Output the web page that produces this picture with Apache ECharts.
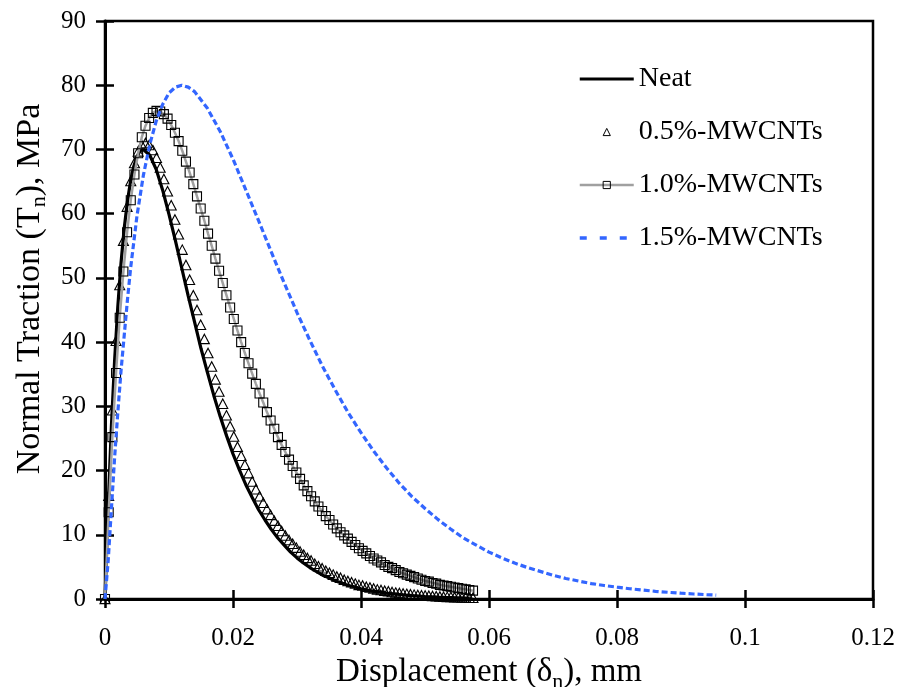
<!DOCTYPE html>
<html><head><meta charset="utf-8">
<script src="https://cdn.jsdelivr.net/npm/echarts@6/dist/echarts.min.js"></script>
<style>html,body{margin:0;padding:0;background:#fff}#c{width:898px;height:687px}</style>
</head><body><div id="c"></div>
<script>
// ---- data ----
const seriesNames = ['Neat', '0.5%-MWCNTs', '1.0%-MWCNTs', '1.5%-MWCNTs'];
const xTickLabels = ['0', '0.02', '0.04', '0.06', '0.08', '0.1', '0.12'];
const yTickLabels = ['0', '10', '20', '30', '40', '50', '60', '70', '80', '90'];

const neatDisplacement = [0, 0.0005, 0.001, 0.0015, 0.002, 0.0025, 0.003, 0.0035, 0.004, 0.0045, 0.005, 0.0055, 0.006,
  0.007, 0.008, 0.009, 0.010, 0.011, 0.012, 0.013, 0.014, 0.015, 0.016, 0.017, 0.018, 0.019, 0.020,
  0.021, 0.022, 0.023, 0.024, 0.025, 0.026, 0.027, 0.028, 0.029, 0.030, 0.031, 0.032, 0.033, 0.034,
  0.035, 0.036, 0.037, 0.038, 0.039, 0.040, 0.041, 0.042, 0.043, 0.044, 0.045, 0.046, 0.047, 0.048,
  0.049, 0.050, 0.051, 0.052, 0.053, 0.054, 0.055, 0.056, 0.057];
const neatTraction = [0, 14.6, 26.9, 37.1, 45.5, 52.3, 57.7, 61.9, 65.1, 67.4, 68.9, 69.8, 70.0,
  69.1, 66.9, 63.7, 59.9, 55.8, 51.5, 47.2, 43.1, 39.0, 35.3, 31.7, 28.4, 25.4, 22.6,
  20.1, 17.8, 15.8, 13.9, 12.3, 10.8, 9.5, 8.4, 7.3, 6.4, 5.6, 4.9, 4.3, 3.7,
  3.3, 2.8, 2.5, 2.1, 1.9, 1.6, 1.4, 1.2, 1.1, 0.9, 0.8, 0.7, 0.6, 0.52,
  0.45, 0.39, 0.34, 0.29, 0.25, 0.22, 0.19, 0.16, 0.14];

const markerDisplacement = [0, 0.000575, 0.00115, 0.001725, 0.0023, 0.002875, 0.00345, 0.004025, 0.0046, 0.005175,
  0.00575, 0.006325, 0.0069, 0.007475, 0.00805, 0.008625, 0.0092, 0.009775, 0.01035, 0.010925,
  0.0115, 0.012075, 0.01265, 0.013225, 0.0138, 0.014375, 0.01495, 0.015525, 0.0161, 0.016675,
  0.01725, 0.017825, 0.0184, 0.018975, 0.01955, 0.020125, 0.0207, 0.021275, 0.02185, 0.022425,
  0.023, 0.023575, 0.02415, 0.024725, 0.0253, 0.025875, 0.02645, 0.027025, 0.0276, 0.028175,
  0.02875, 0.029325, 0.0299, 0.030475, 0.03105, 0.031625, 0.0322, 0.032775, 0.03335, 0.033925,
  0.0345, 0.035075, 0.03565, 0.036225, 0.0368, 0.037375, 0.03795, 0.038525, 0.0391, 0.039675,
  0.04025, 0.040825, 0.0414, 0.041975, 0.04255, 0.043125, 0.0437, 0.044275, 0.04485, 0.045425,
  0.046, 0.046575, 0.04715, 0.047725, 0.0483, 0.048875, 0.04945, 0.050025, 0.0506, 0.051175,
  0.05175, 0.052325, 0.0529, 0.053475, 0.05405, 0.054625, 0.0552, 0.055775, 0.05635, 0.056925, 0.0575];
const traction05 = [0, 16.1, 29.4, 40.2, 48.9, 55.8, 61.1, 65.1, 67.9, 69.7,
  70.7, 71.0, 70.7, 69.9, 68.7, 67.2, 65.4, 63.5, 61.3, 59.1,
  56.8, 54.4, 52.0, 49.7, 47.3, 45.0, 42.7, 40.5, 38.3, 36.2,
  34.2, 32.3, 30.4, 28.6, 26.9, 25.3, 23.7, 22.3, 20.9, 19.6,
  18.3, 17.1, 16.0, 15.0, 14.0, 13.1, 12.2, 11.4, 10.6, 9.9,
  9.2, 8.6, 8.0, 7.4, 6.9, 6.4, 6.0, 5.5, 5.1, 4.8,
  4.4, 4.1, 3.8, 3.5, 3.3, 3.0, 2.8, 2.6, 2.4, 2.2,
  2.1, 1.9, 1.8, 1.65, 1.5, 1.4, 1.3, 1.2, 1.1, 1.0,
  0.94, 0.87, 0.80, 0.74, 0.68, 0.63, 0.58, 0.54, 0.50, 0.46,
  0.42, 0.39, 0.36, 0.33, 0.31, 0.28, 0.26, 0.24, 0.22, 0.20, 0.19];
const traction10 = [0, 13.5, 25.2, 35.2, 43.8, 51.0, 57.1, 62.1, 66.1, 69.4,
  71.9, 73.7, 74.9, 75.7, 76.0, 75.9, 75.5, 74.8, 73.8, 72.6,
  71.3, 69.8, 68.1, 66.4, 64.6, 62.7, 60.8, 58.9, 56.9, 55.0,
  53.0, 51.1, 49.2, 47.3, 45.4, 43.6, 41.8, 40.0, 38.3, 36.7,
  35.1, 33.5, 32.0, 30.6, 29.1, 27.8, 26.5, 25.2, 24.0, 22.9,
  21.7, 20.7, 19.7, 18.7, 17.7, 16.8, 16.0, 15.2, 14.4, 13.7,
  12.9, 12.3, 11.6, 11.0, 10.4, 9.9, 9.4, 8.9, 8.4, 7.9,
  7.5, 7.1, 6.7, 6.3, 6.0, 5.7, 5.3, 5.0, 4.8, 4.5,
  4.2, 4.0, 3.8, 3.6, 3.4, 3.2, 3.0, 2.8, 2.7, 2.5,
  2.4, 2.2, 2.1, 2.0, 1.9, 1.8, 1.7, 1.6, 1.5, 1.4, 1.3];

const mw15Displacement = [0, 0.0005, 0.001, 0.0015, 0.002, 0.0025, 0.003, 0.0035, 0.004,
  0.005, 0.006, 0.007, 0.008, 0.009, 0.010, 0.011, 0.012, 0.013, 0.014,
  0.016, 0.018, 0.020, 0.022, 0.024, 0.026, 0.028, 0.030, 0.032, 0.034,
  0.036, 0.038, 0.040, 0.042, 0.044, 0.046, 0.048, 0.050, 0.052, 0.054,
  0.056, 0.058, 0.060, 0.062, 0.064, 0.066, 0.068, 0.070, 0.072, 0.074,
  0.076, 0.078, 0.080, 0.082, 0.084, 0.086, 0.088, 0.090, 0.092, 0.094, 0.0955];
const mw15Traction = [0, 6, 14, 22, 29, 35.5, 41, 46.5, 51.5,
  59.7, 66.0, 70.8, 74.4, 77.0, 78.8, 79.7, 80.0, 79.7, 79.0,
  76.4, 72.8, 68.5, 63.7, 58.9, 54.0, 49.2, 44.6, 40.3, 36.2,
  32.5, 29.0, 25.9, 23.0, 20.4, 18.0, 15.9, 14.1, 12.4, 10.9,
  9.5, 8.4, 7.3, 6.4, 5.6, 4.9, 4.3, 3.7, 3.2, 2.8,
  2.4, 2.1, 1.85, 1.6, 1.4, 1.2, 1.04, 0.9, 0.78, 0.68, 0.61];

// ---- chart ----
const FONT = '"Liberation Serif","Times New Roman",serif';
const zip = (xs, ys) => xs.map((x, i) => [x, ys[i]]);
const XSTEP = 0.02, YSTEP = 10;

const tickStyle = { color: '#000', width: 2.5 };
function titleRich(size) {
  const sub = Math.round(size * 0.66);
  return {
    a: { fontFamily: FONT, fontSize: size, color: '#000', lineHeight: size, verticalAlign: 'top' },
    s: { fontFamily: FONT, fontSize: sub, color: '#000', lineHeight: sub,
         padding: [Math.round(size * 0.45), 0, 0, 0], verticalAlign: 'top' }
  };
}

const chart = echarts.init(document.getElementById('c'), null, { renderer: 'canvas' });
chart.setOption({
  animation: false,
  backgroundColor: '#fff',
  grid: { left: 105, right: 25, top: 21, bottom: 88, show: true, borderColor: '#000', borderWidth: 2.5,
          backgroundColor: 'rgba(0,0,0,0)', containLabel: false, outerBoundsMode: 'none' },
  legend: {
    orient: 'vertical', left: 578, top: 64, padding: 0, selectedMode: false,
    itemWidth: 54, itemHeight: 9, itemGap: 23,
    textStyle: { fontFamily: FONT, fontSize: 28, color: '#000', lineHeight: 30 },
    data: [
      { name: seriesNames[0], itemStyle: { opacity: 0 }, lineStyle: { width: 3, color: '#000' } },
      { name: seriesNames[1], itemStyle: { borderWidth: 1, borderColor: '#000', color: 'rgba(0,0,0,0)' }, lineStyle: { width: 0 } },
      { name: seriesNames[2], itemStyle: { borderWidth: 1, borderColor: '#000', color: 'rgba(0,0,0,0)' }, lineStyle: { width: 2.5, color: '#a0a0a0' } },
      { name: seriesNames[3], itemStyle: { opacity: 0 }, lineStyle: { width: 3.5, color: '#3366ff', type: [7, 13] } }
    ]
  },
  xAxis: [
    {
      type: 'value', min: 0, max: 0.12, interval: XSTEP, position: 'bottom',
      axisLine: { lineStyle: { color: '#000', width: 3 } },
      axisTick: { inside: false, length: 9, lineStyle: tickStyle },
      splitLine: { show: false },
      axisLabel: { margin: 27, fontFamily: FONT, fontSize: 25, lineHeight: 25, color: '#000',
                   formatter: v => xTickLabels[Math.round(v / XSTEP)] },
      name: '{a|Displacement (δ}{s|n}{a|), mm}',
      nameLocation: 'middle', nameGap: 44,
      nameTextStyle: { rich: titleRich(33) }
    },
    {
      type: 'value', min: 0, max: 0.12, interval: XSTEP, position: 'bottom',
      axisLine: { show: false }, axisLabel: { show: false }, splitLine: { show: false },
      axisTick: { inside: true, length: 9, lineStyle: tickStyle }
    }
  ],
  yAxis: [
    {
      type: 'value', min: 0, max: 90, interval: YSTEP, position: 'left',
      axisLine: { lineStyle: { color: '#000', width: 3 } },
      axisTick: { inside: false, length: 9, lineStyle: tickStyle },
      splitLine: { show: false },
      axisLabel: { margin: 19, fontFamily: FONT, fontSize: 25, color: '#000',
                   formatter: v => yTickLabels[Math.round(v / YSTEP)] },
      name: '{a|Normal Traction (T}{s|n}{a|), MPa}',
      nameLocation: 'middle', nameGap: 57,
      nameTextStyle: { rich: titleRich(34), padding: [0, 0, 0, 42] }
    },
    {
      type: 'value', min: 0, max: 90, interval: YSTEP, position: 'left',
      axisLine: { show: false }, axisLabel: { show: false }, splitLine: { show: false },
      axisTick: { inside: true, length: 9, lineStyle: tickStyle }
    }
  ],
  series: [
    {
      name: seriesNames[0], type: 'line', data: zip(neatDisplacement, neatTraction),
      symbol: 'none', lineStyle: { color: '#000', width: 3.2 }, itemStyle: { color: '#000' }, z: 2
    },
    {
      name: seriesNames[1], type: 'line', data: zip(markerDisplacement, traction05),
      symbol: 'triangle', symbolSize: [10, 9.5], lineStyle: { width: 0 },
      itemStyle: { color: 'rgba(0,0,0,0)', borderColor: '#000', borderWidth: 1.1 }, z: 3
    },
    {
      name: seriesNames[2], type: 'line', data: zip(markerDisplacement, traction10),
      symbol: 'rect', symbolSize: 9, lineStyle: { color: '#a0a0a0', width: 2.5 },
      itemStyle: { color: 'rgba(0,0,0,0)', borderColor: '#000', borderWidth: 1.1 }, z: 4
    },
    {
      name: seriesNames[3], type: 'line', data: zip(mw15Displacement, mw15Traction),
      symbol: 'none', lineStyle: { color: '#3366ff', width: 3.2, type: [6, 3] },
      itemStyle: { color: '#3366ff' }, z: 5
    }
  ]
});
</script>
</body></html>
